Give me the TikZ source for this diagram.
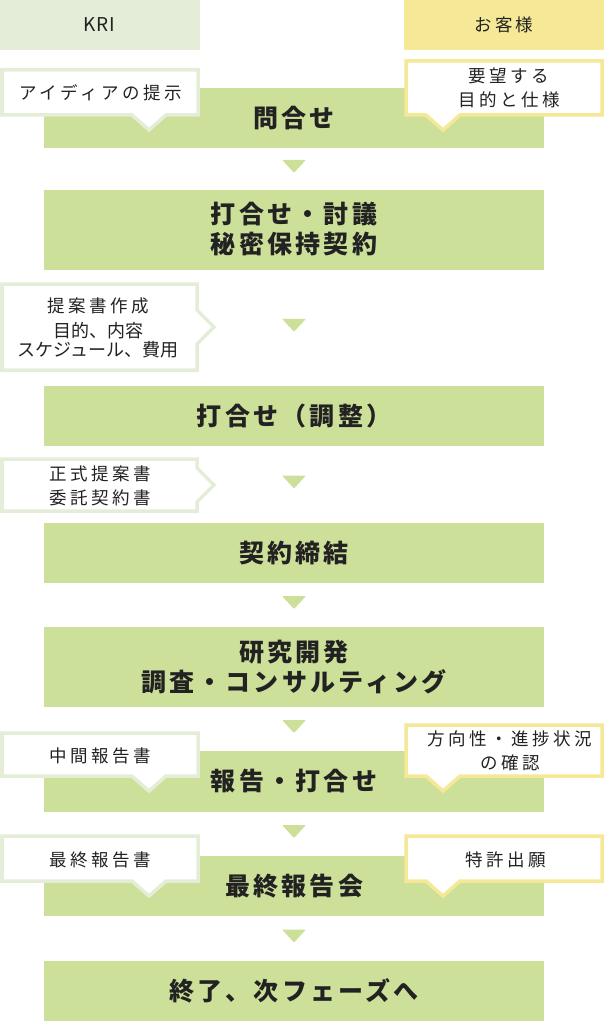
\documentclass[tikz,border=0pt]{standalone}
\usepackage{fontspec}
\setmainfont{Noto Sans CJK JP}
\usetikzlibrary{calc}

\definecolor{stagegreen}{HTML}{CDE09A}
\definecolor{krigreen}{HTML}{E4EDD8}
\definecolor{clientyellow}{HTML}{F5E896}
\definecolor{inkgray}{HTML}{222222}

\begin{document}
\begin{tikzpicture}[
    x=1pt, y=-1pt,
    text=inkgray,
    stage/.style={fill=stagegreen, minimum width=500pt, align=center,
        font={\fontsize{25}{30}\selectfont\bfseries\addfontfeatures{LetterSpace=13}}},
    header/.style={minimum width=200pt, minimum height=50pt,
        font={\fontsize{17.5}{22}\selectfont\addfontfeatures{LetterSpace=18}}},
    note/.style={align=center,
        font={\fontsize{17.5}{23.5}\selectfont\addfontfeatures{LetterSpace=20}}},
    notebox/.style={fill=white, line width=3.5pt, line join=miter},
    tri/.style={fill=stagegreen, rounded corners=1pt}
]
    \useasboundingbox (0,0) rectangle (604,1022);

    % Kopfzeile
    \node[header, fill=krigreen, font={\fontsize{19}{22}\selectfont\addfontfeatures{LetterSpace=5}}]
        (kri) at (99.5,25) {KRI};
    \node[header, fill=clientyellow] (client) at (504,25) {お客様};

    % Ablauf
    \foreach \n/\y/\h/\txt in {1/118/60/問合せ, 2/229.5/80/{打合せ・討議\\秘密保持契約},
        3/416/60/打合せ（調整）, 4/553/60/契約締結, 5/667/80/{研究開発\\調査・コンサルティング},
        6/781.5/61/報告・打合せ, 7/886/60/最終報告会, 8/991/60/終了、次フェーズへ} {
        \node[stage, minimum height=\h pt] (s\n) at (294,\y) {\txt};
    }

    % Pfeile
    \foreach \a/\b in {1/2,2/3,3/4,4/5,5/6,6/7,7/8} {
        \fill[tri] ($(s\a.south)!0.5!(s\b.north)$) ++(-12,-9) -- ++(24,0) -- ++(-12,13) -- cycle;
    }

    % Sprechblasen nach unten
    \foreach \x/\t/\b/\p/\c in {0/68/117/149/krigreen, 404/59/117/443/clientyellow,
        0/731/778/149/krigreen, 404/723/778/443/clientyellow,
        0/834/883/149/krigreen, 404/834/883/443/clientyellow} {
        \draw[notebox, draw=\c] (\x+2,\t+2) -- (\x+198,\t+2) -- (\x+198,\b-2)
            -- (\p+17,\b-2) -- (\p,\b+13) -- (\p-17,\b-2) -- (\x+2,\b-2) -- cycle;
    }

    % Sprechblasen nach rechts
    \foreach \t/\b/\m in {282/372/327, 457/513/485} {
        \draw[notebox, draw=krigreen] (2,\t+2) -- (197,\t+2) -- (197,\m-17) -- (214,\m)
            -- (197,\m+17) -- (197,\b-2) -- (2,\b-2) -- cycle;
    }

    \node[note] (idea) at (100.5,92.5) {アイディアの提示};
    \node[note] (request) at (509,88) {要望する\\目的と仕様};
    \node[note, font={\fontsize{18}{19}\selectfont}] (proposal) at (98,328)
        {{\fontsize{17.5}{23.5}\selectfont\addfontfeatures{LetterSpace=20}提案書作成}\\[6pt]目的、内容\\スケジュール、費用};
    \node[note] (contract) at (100.5,486) {正式提案書\\委託契約書};
    \node[note] (interim) at (100.5,756) {中間報告書};
    \node[note] (progress) at (510,751) {方向性・進捗状況\\の確認};
    \node[note] (finalrep) at (100.5,859.5) {最終報告書};
    \node[note] (patent) at (505.5,859.5) {特許出願};
\end{tikzpicture}
\end{document}
